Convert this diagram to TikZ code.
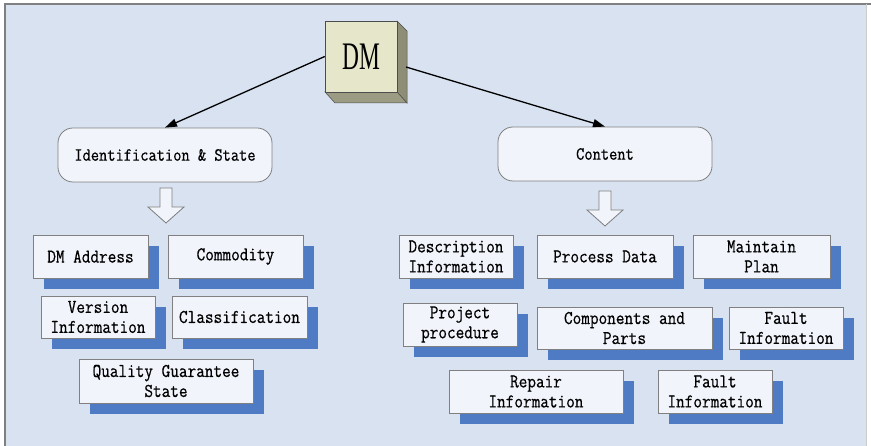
\documentclass[tikz,border=0pt]{standalone}
\usepackage{fontspec}
\setmainfont{Liberation Serif}
\newfontfamily\boxfont{Latin Modern Mono}[FakeBold=0.6,FakeStretch=0.86]
\usetikzlibrary{arrows.meta,shadows}
\definecolor{bg}{HTML}{D8E2F0}
\definecolor{boxfill}{HTML}{F1F4FA}
\definecolor{shadowblue}{HTML}{4F7BC4}
\definecolor{framegray}{HTML}{808080}
\definecolor{dmfront}{HTML}{E6E6CA}
\definecolor{dmside}{HTML}{8E8E76}
\definecolor{dmbottom}{HTML}{9C9C84}
\tikzset{
  item/.style={draw=framegray, fill=boxfill, line width=0.8pt, inner sep=0pt, align=center,
    font=\boxfont\fontsize{19.5}{20}\selectfont,
    drop shadow={shadow xshift=11pt, shadow yshift=-11pt, fill=shadowblue, opacity=1, draw=none}},
  topbox/.style={draw=framegray, fill=boxfill, line width=0.8pt, rounded corners=15pt,
    minimum width=214pt, minimum height=54pt, inner sep=0pt,
    font=\boxfont\fontsize{18.6}{20}\selectfont},
  conn/.style={line width=1.3pt, -{Triangle[length=12pt,width=8pt]}},
  pics/hollowdown/.style={code={
    \draw[framegray, fill=boxfill, line width=0.8pt]
      (-6,0) -- (-6,19) -- (-18,19) -- (0,35) -- (18,19) -- (6,19) -- (6,0) -- cycle;}}
}
\begin{document}
\begin{tikzpicture}[x=1pt,y=-1pt]
\useasboundingbox (0,0) rectangle (871,446);
% background frame
\fill[bg] (5,4) rectangle (867,446);
\draw[framegray, line width=2pt] (5,446) -- (5,4) -- (871,4);
\draw[framegray!40, line width=0.8pt] (866,4) -- (866,446);

% DM 3D box
\fill[dmside, draw=framegray!60!black, line width=0.5pt] (397,21) -- (407,31) -- (407,103) -- (397,92) -- cycle;
\fill[dmbottom, draw=framegray!60!black, line width=0.5pt] (325,92) -- (335,103) -- (407,103) -- (397,92) -- cycle;
\node[draw=framegray!60!black, fill=dmfront, line width=0.5pt, minimum width=72pt, minimum height=71pt, inner sep=0pt]
  (dm) at (361,56.5) {\scalebox{0.6}[1]{\fontsize{39}{39}\selectfont DM}};
\coordinate (dmright) at (406,67);

% second level
\node[topbox] (ident) at (165,155) {Identification \& State};
\node[topbox] (content) at (605,154) {Content};

\draw[conn] (dm.west) -- (ident.north);
\draw[conn] (dmright) -- (content.north);

% hollow arrows
\pic at (166,188) {hollowdown};
\pic at (605,191) {hollowdown};

% left items
\node[item, minimum width=115pt, minimum height=43pt] (addr) at (90.5,256.5) {DM Address};
\node[item, minimum width=135pt, minimum height=43pt] (comm) at (235.5,256.5) {Commodity};
\node[item, minimum width=114pt, minimum height=42pt] (vers) at (98,317) {Version\\Information};
\node[item, minimum width=135pt, minimum height=42pt] (class) at (239.5,317) {Classification};
\node[item, minimum width=174pt, minimum height=44pt] (qgs) at (166,381) {Quality Guarantee\\State};

% right items
\node[item, minimum width=114pt, minimum height=43pt] (desc) at (456,256.5) {Description\\Information};
\node[item, minimum width=136pt, minimum height=43pt] (proc) at (605,256.5) {Process Data};
\node[item, minimum width=137pt, minimum height=43pt] (plan) at (761.5,256.5) {Maintain\\Plan};
\node[item, minimum width=114pt, minimum height=43pt] (proj) at (460,324.5) {Project\\procedure};
\node[item, minimum width=175pt, minimum height=42pt] (comp) at (624.5,328) {Components and\\Parts};
\node[item, minimum width=114pt, minimum height=42pt] (fault1) at (786,328) {Fault\\Information};
\node[item, minimum width=174pt, minimum height=43pt] (repair) at (536,391.5) {Repair\\Information};
\node[item, minimum width=114pt, minimum height=43pt] (fault2) at (715,391.5) {Fault\\Information};
\end{tikzpicture}
\end{document}
